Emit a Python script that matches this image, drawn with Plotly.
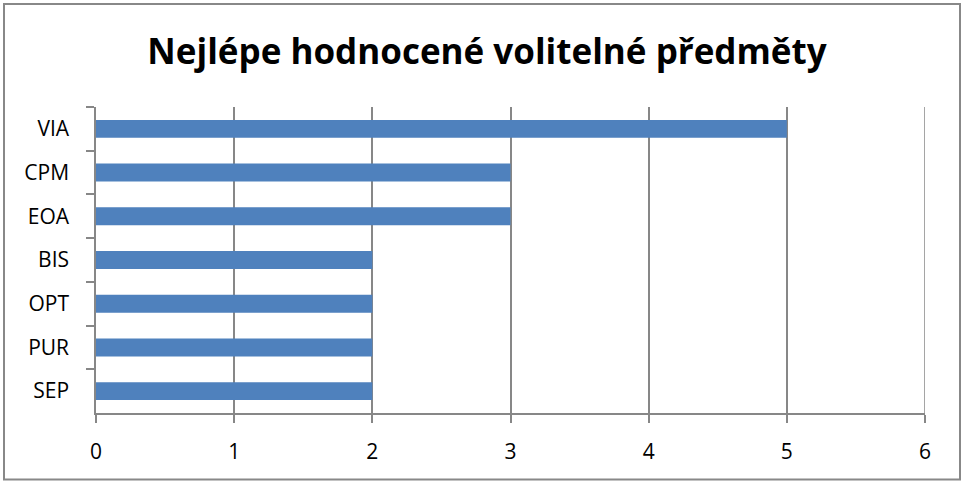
import plotly.graph_objects as go

categories = ["VIA", "CPM", "EOA", "BIS", "OPT", "PUR", "SEP"]
values = [5, 3, 3, 2, 2, 2, 2]
x_ticks = [0, 1, 2, 3, 4, 5, 6]

W, H = 964, 481
L, R, T, B = 96, 925, 107, 413

def px_x(p):
    return (p - L) / (R - L)

def px_y(p):
    return (B - p) / (B - T)

fig = go.Figure(go.Bar(
    x=values, y=categories, orientation="h",
    marker=dict(color="#4F81BD", line=dict(width=0)),
    width=0.41,
))

grid = "#878787"
fig.update_layout(
    width=W, height=H,
    margin=dict(l=L, r=W - R, t=T, b=H - B, pad=0),
    paper_bgcolor="white", plot_bgcolor="white",
    showlegend=False,
    font=dict(family="Open Sans", size=21, color="#000000"),
    title=dict(text="<b>Nejlépe hodnocené volitelné předměty</b>",
               x=487 / W, xref="container", xanchor="center",
               y=1 - 52 / H, yref="container", yanchor="middle",
               font=dict(family="Open Sans", size=35, color="#000000")),
    shapes=[
        dict(type="rect", xref="paper", yref="paper",
             x0=px_x(4), x1=px_x(960), y0=px_y(479.5), y1=px_y(4),
             line=dict(color="#888888", width=2), fillcolor="rgba(0,0,0,0)",
             layer="below"),
        dict(type="line", xref="x", yref="paper",
             x0=x_ticks[-1], x1=x_ticks[-1], y0=0, y1=1,
             line=dict(color=grid, width=1.5), layer="below"),
    ],
)
fig.update_xaxes(range=[0, 6], tickvals=x_ticks, showgrid=True, gridcolor=grid,
                 gridwidth=1.5, showline=True, linecolor=grid, linewidth=1.5,
                 ticks="outside", ticklen=8, tickcolor=grid, tickwidth=1.5,
                 zeroline=False, ticklabelstandoff=11, fixedrange=True)
fig.update_yaxes(autorange="reversed", showgrid=False, showline=True,
                 linecolor=grid, linewidth=1.5, ticks="outside", ticklen=8,
                 tickcolor=grid, tickwidth=1.5, tickson="boundaries",
                 ticklabelstandoff=21, fixedrange=True)

fig.write_html("out.html", config={"displayModeBar": False},
               post_script="document.body.style.margin='0';document.body.style.overflow='hidden';")
